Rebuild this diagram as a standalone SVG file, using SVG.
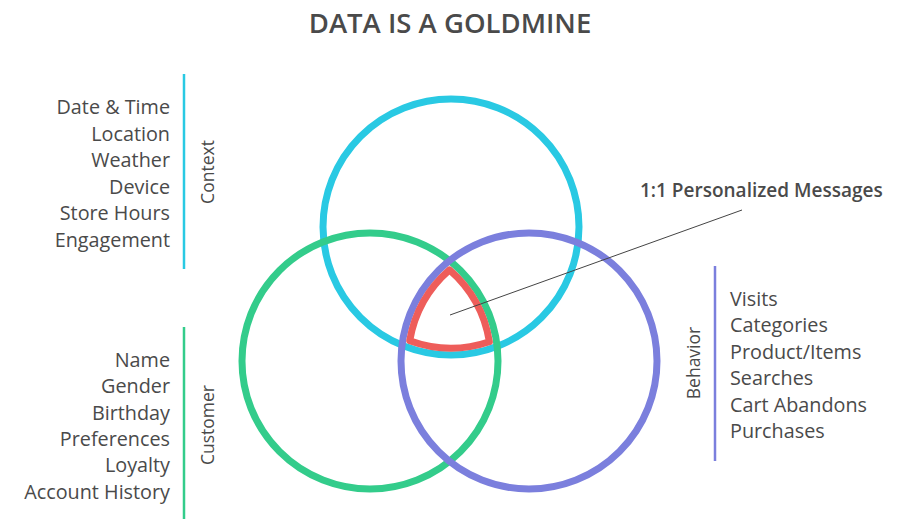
<svg xmlns="http://www.w3.org/2000/svg" width="902" height="519" viewBox="0 0 902 519">
  <style>
    .t { font-family: "Open Sans", Lato, "Liberation Sans", sans-serif; fill: #4a4a4a; }
    .item { font-size: 19.8px; }
    .side { font-size: 17.5px; }
    .ring { fill: none; stroke-width: 7; }
    .bar { stroke-width: 2.5; }
  </style>
  <rect width="902" height="519" fill="#ffffff"/>

  <text class="t" x="450" y="33" font-size="27.5" font-weight="600" text-anchor="middle">DATA IS A GOLDMINE</text>

  <g id="context">
    <circle class="ring" cx="451" cy="227" r="128" stroke="#29c9e3"/>
  </g>
  <g id="customer">
    <circle class="ring" cx="370" cy="361" r="128" stroke="#33cc8b"/>
  </g>
  <g id="behavior">
    <circle class="ring" cx="529" cy="361" r="128" stroke="#7b7fdd"/>
  </g>
  <g id="personalized">
    <path d="M449.5 269.8 A121 121 0 0 1 489.4 341.7 A121 121 0 0 1 409.7 340.7 A121 121 0 0 1 449.5 269.8 Z" fill="none" stroke="#ee5d5a" stroke-width="7" stroke-linejoin="round"/>
    <text class="t" x="640" y="197" font-size="19" font-weight="600">1:1 Personalized Messages</text>
  </g>

  <g id="connectors">
    <line x1="450" y1="315" x2="742" y2="210" stroke="#444444" stroke-width="1"/>
  </g>

  <g id="context-list">
    <line class="bar" x1="184" y1="74" x2="184" y2="269" stroke="#29c9e3"/>
    <text class="t side" transform="translate(214 172) rotate(-90)" text-anchor="middle">Context</text>
    <g class="t item" text-anchor="end">
      <text x="170" y="114">Date &amp; Time</text>
      <text x="170" y="140.5">Location</text>
      <text x="170" y="167">Weather</text>
      <text x="170" y="193.5">Device</text>
      <text x="170" y="220">Store Hours</text>
      <text x="170" y="246.5">Engagement</text>
    </g>
  </g>

  <g id="customer-list">
    <line class="bar" x1="184" y1="327" x2="184" y2="519" stroke="#33cc8b"/>
    <text class="t side" transform="translate(214 425) rotate(-90)" text-anchor="middle">Customer</text>
    <g class="t item" text-anchor="end">
      <text x="170" y="366.5">Name</text>
      <text x="170" y="393">Gender</text>
      <text x="170" y="419.5">Birthday</text>
      <text x="170" y="446">Preferences</text>
      <text x="170" y="472">Loyalty</text>
      <text x="170" y="498.5">Account History</text>
    </g>
  </g>

  <g id="behavior-list">
    <line class="bar" x1="715" y1="266" x2="715" y2="461" stroke="#7b7fdd"/>
    <text class="t side" transform="translate(700 363) rotate(-90)" text-anchor="middle">Behavior</text>
    <g class="t item">
      <text x="730" y="305.5">Visits</text>
      <text x="730" y="332">Categories</text>
      <text x="730" y="358.5">Product/Items</text>
      <text x="730" y="385">Searches</text>
      <text x="730" y="411.5">Cart Abandons</text>
      <text x="730" y="438">Purchases</text>
    </g>
  </g>
</svg>
